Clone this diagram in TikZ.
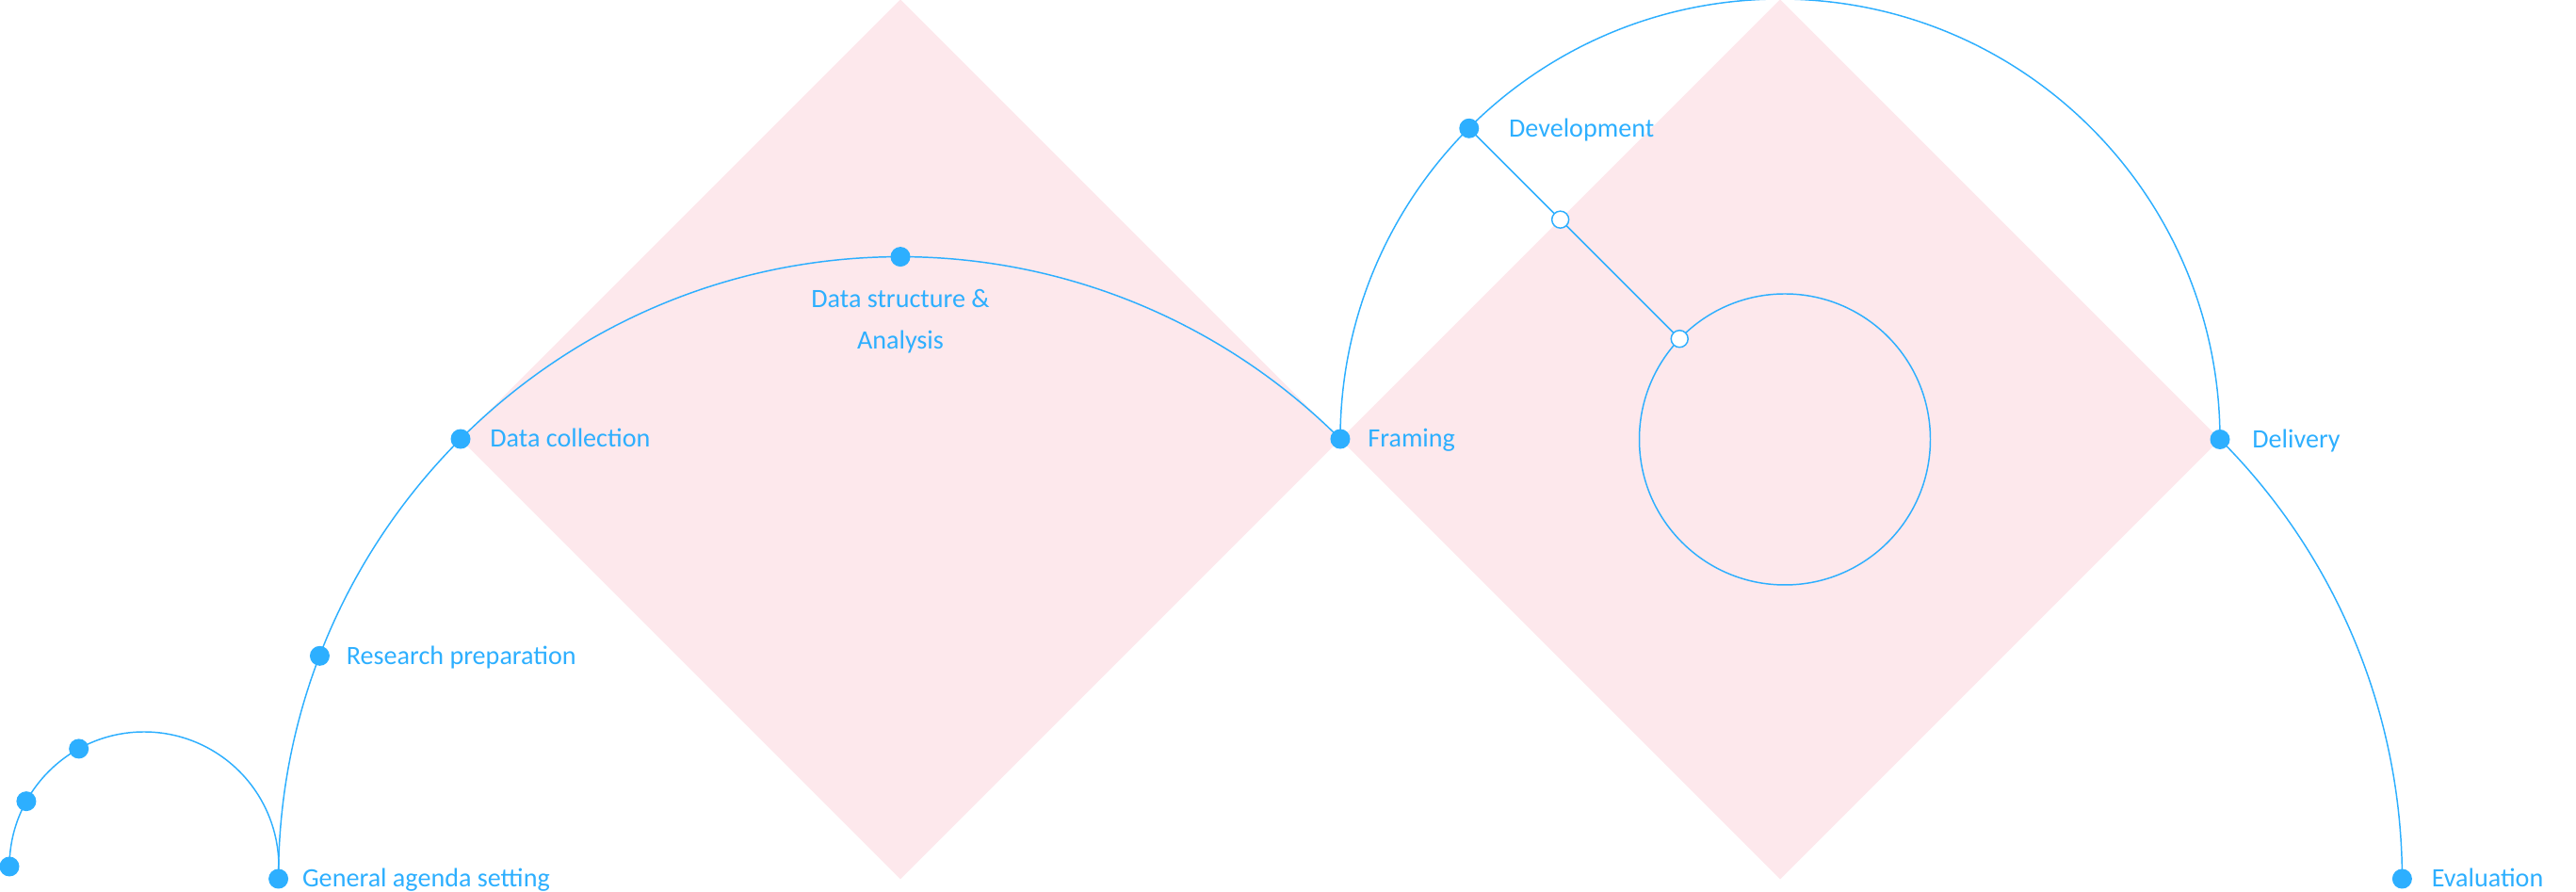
\documentclass[tikz,border=0pt]{standalone}
\usepackage{fontspec}
\setmainfont{Carlito}
\usetikzlibrary{positioning}
\definecolor{skyblue}{RGB}{45,175,255}
\definecolor{blush}{RGB}{253,232,236}

\begin{document}
\begin{tikzpicture}[
  wire/.style={draw=skyblue,line width=0.42pt},
  dot/.style={circle,fill=skyblue,inner sep=0pt,minimum size=2.1mm},
  hollow/.style={circle,draw=skyblue,fill=white,line width=0.42pt,inner sep=0pt,minimum size=1.8mm},
  tag/.style={text=skyblue,inner sep=0pt,font=\fontsize{8}{12.5}\selectfont},
  side/.style={tag,text height=5.1pt,text depth=0pt}]
\useasboundingbox (0,0) rectangle (27.35,9.47);
\fill[blush] (9.56,9.475) -- (14.23,4.805) -- (9.56,0.135) -- (4.89,4.805) -- cycle;
\fill[blush] (18.9,9.475) -- (23.57,4.805) -- (18.9,0.135) -- (14.23,4.805) -- cycle;

\coordinate (o0) at (1.53,0.27);
\coordinate (o1) at (9.56,0.14);
\coordinate (o2) at (18.9,4.805);
\coordinate (o3) at (18.9,0.14);
\path (o0) ++(180:1.43) coordinate (s1)
      (o0) ++(151:1.43) coordinate (s2)
      (o0) ++(119:1.43) coordinate (s3)
      (o1) ++(180:6.604) coordinate (gen)
      (o1) ++(159:6.604) coordinate (res)
      (o1) ++(135:6.604) coordinate (col)
      (o1) ++(90:6.604) coordinate (ana)
      (o1) ++(45:6.604) coordinate (fra)
      (o2) ++(135:4.67) coordinate (dev)
      (o2) ++(135:3.30) coordinate (h1)
      (o2) ++(135:1.51) coordinate (h2)
      (o2) ++(0:4.67) coordinate (del)
      (o3) ++(0:6.604) coordinate (eva);

\draw[wire] (s1) arc[start angle=180,end angle=-5,radius=1.43] -- (gen);
\draw[wire] (gen) arc[start angle=180,end angle=45,radius=6.604];
\draw[wire] (fra) arc[start angle=180,end angle=0,radius=4.67];
\draw[wire] (del) arc[start angle=45,end angle=0,radius=6.604];
\draw[wire] (dev) -- (h1) -- (h2);
\draw[wire] (18.95,4.805) circle (1.545);

\foreach \p in {s1,s2,s3,gen,res,col,ana,fra,dev,del,eva}
  \node[dot] (d-\p) at (\p) {};
\node[hollow] (d-h1) at (h1) {};
\node[hollow] (d-h2) at (h2) {};

\node[side,right=1.35mm of d-gen] (t-gen) {General agenda setting};
\node[side,right=1.65mm of d-res] (t-res) {Research preparation};
\node[side,right=1.95mm of d-col] (t-col) {Data collection};
\node[tag,align=center,below=2.3mm of d-ana] (t-ana) {Data structure \&\\Analysis};
\node[side,right=1.75mm of d-fra] (t-fra) {Framing};
\node[side,right=3.05mm of d-dev] (t-dev) {Development};
\node[side,right=2.25mm of d-del] (t-del) {Delivery};
\node[side,right=1.95mm of d-eva] (t-eva) {Evaluation};
\end{tikzpicture}
\end{document}
